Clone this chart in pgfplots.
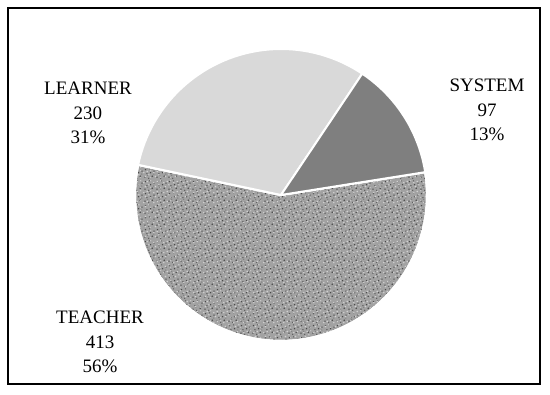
\documentclass[border=0pt]{standalone}
\usepackage{fontspec}
\setmainfont{Liberation Serif}
\usepackage{pgfplots}
\pgfplotsset{compat=1.18}
\usetikzlibrary{patterns.meta}

\definecolor{learnergray}{HTML}{D9D9D9}
\definecolor{systemgray}{HTML}{7F7F7F}
\definecolor{specbase}{HTML}{A2A2A2}
\definecolor{specdark}{HTML}{4A4A4A}
\definecolor{speclight}{HTML}{D2D2D2}

% grain for the TEACHER slice: two dot layers on a grey fill
\tikzdeclarepattern{
  name=speckdark,
  type=uncolored,
  bounding box={(0pt,0pt) and (12pt,12pt)},
  tile size={(12pt,12pt)},
  code={
    \fill (1.1pt,2.0pt) circle (0.9pt);
    \fill (5.2pt,0.8pt) circle (0.7pt);
    \fill (8.9pt,2.9pt) circle (1.0pt);
    \fill (3.2pt,5.7pt) circle (0.75pt);
    \fill (7.1pt,6.8pt) circle (0.85pt);
    \fill (10.8pt,8.5pt) circle (0.7pt);
    \fill (1.6pt,10.1pt) circle (0.85pt);
    \fill (6.1pt,10.9pt) circle (0.6pt);
    \fill (4.1pt,4.0pt) circle (0.45pt);
    \fill (10.6pt,5.3pt) circle (0.5pt);
  }
}
\tikzdeclarepattern{
  name=specklight,
  type=uncolored,
  bounding box={(0pt,0pt) and (9.5pt,9.5pt)},
  tile size={(9.5pt,9.5pt)},
  code={
    \fill (2.6pt,1.6pt) circle (0.9pt);
    \fill (6.2pt,3.3pt) circle (0.8pt);
    \fill (0.9pt,5.6pt) circle (0.8pt);
    \fill (4.5pt,6.8pt) circle (1.0pt);
    \fill (8.1pt,7.6pt) circle (0.7pt);
    \fill (8.0pt,0.7pt) circle (0.55pt);
  }
}

% slice values
\def\vSystem{97}
\def\vLearner{230}
\def\vTeacher{413}
\pgfmathsetmacro\vTotal{\vSystem+\vLearner+\vTeacher}
\pgfmathsetmacro\aStart{9}
\pgfmathsetmacro\aA{\aStart+\vSystem/\vTotal*360}
\pgfmathsetmacro\aB{\aA+\vLearner/\vTotal*360}
\pgfmathsetmacro\aC{\aB+\vTeacher/\vTotal*360}
\def\cx{281}
\def\cy{200}
\def\rr{146}

\begin{document}
\begin{tikzpicture}
\begin{axis}[
    hide axis, scale only axis, clip=false,
    x=1pt, y=1pt,
    xmin=0, xmax=550, ymin=0, ymax=395,
    every axis plot/.append style={draw=white, line width=2pt, line join=miter},
]
\path (axis cs:0,0) (axis cs:550,395);
\draw[line width=1.8pt] (axis cs:8,11) rectangle (axis cs:540,387);

% TEACHER
\addplot[fill=specbase,
    postaction={pattern=speckdark, pattern color=specdark},
    postaction={pattern=specklight, pattern color=speclight},
    domain=\aB:\aC, samples=80, variable=\t]
    ({\cx+\rr*cos(\t)}, {\cy+\rr*sin(\t)}) -- (axis cs:\cx,\cy) -- cycle;
% LEARNER
\addplot[fill=learnergray, domain=\aA:\aB, samples=50, variable=\t]
    ({\cx+\rr*cos(\t)}, {\cy+\rr*sin(\t)}) -- (axis cs:\cx,\cy) -- cycle;
% SYSTEM
\addplot[fill=systemgray, domain=\aStart:\aA, samples=25, variable=\t]
    ({\cx+\rr*cos(\t)}, {\cy+\rr*sin(\t)}) -- (axis cs:\cx,\cy) -- cycle;

\node[align=center, font=\fontsize{19}{24.5}\selectfont] at (axis cs:88,282)
    {LEARNER\\230\\31\%};
\node[align=center, font=\fontsize{19}{24.5}\selectfont] at (axis cs:487,285)
    {SYSTEM\\97\\13\%};
\node[align=center, font=\fontsize{19}{24.5}\selectfont] at (axis cs:100,53)
    {TEACHER\\413\\56\%};
\end{axis}
\end{tikzpicture}
\end{document}
